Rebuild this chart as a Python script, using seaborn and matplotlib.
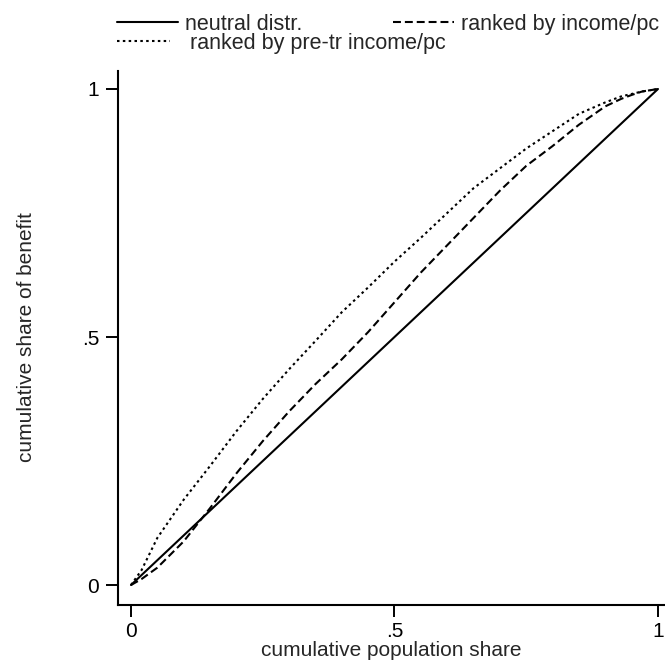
import matplotlib
matplotlib.use("Agg")
import matplotlib.pyplot as plt
import pandas as pd
import seaborn as sns

# cumulative population share (x) and cumulative share of benefit (y)
pop_share = [0.0, 0.02, 0.05, 0.10, 0.15, 0.20, 0.25, 0.30, 0.35, 0.40, 0.45,
             0.50, 0.55, 0.60, 0.65, 0.70, 0.75, 0.80, 0.85, 0.90, 0.93, 0.95,
             0.97, 1.0]
neutral = [0.0, 0.02, 0.05, 0.10, 0.15, 0.20, 0.25, 0.30, 0.35, 0.40, 0.45,
           0.50, 0.55, 0.60, 0.65, 0.70, 0.75, 0.80, 0.85, 0.90, 0.93, 0.95,
           0.97, 1.0]
by_income = [0.0, 0.012, 0.035, 0.088, 0.155, 0.225, 0.29, 0.35, 0.405, 0.455,
             0.51, 0.57, 0.63, 0.685, 0.74, 0.795, 0.845, 0.885, 0.928, 0.965,
             0.98, 0.988, 0.995, 1.0]
by_pretr_income = [0.0, 0.03, 0.095, 0.172, 0.24, 0.31, 0.375, 0.435, 0.492,
                   0.55, 0.60, 0.652, 0.70, 0.75, 0.80, 0.84, 0.88, 0.915,
                   0.95, 0.973, 0.985, 0.99, 0.995, 1.0]

series_labels = ["neutral distr.", "ranked by income/pc", "ranked by pre-tr income/pc"]
x_ticks = [0, 0.5, 1]
x_tick_labels = ["0", ".5", "1"]
y_ticks = [0, 0.5, 1]
y_tick_labels = ["0", ".5", "1"]


def main():
    sns.set_style("ticks")
    plt.rcParams["font.family"] = ["Liberation Sans", "DejaVu Sans"]

    fig = plt.figure(figsize=(6.65, 6.61), dpi=100)
    ax = fig.add_axes([0.1774, 0.0847, 0.8226, 0.8079])

    df = pd.DataFrame({"x": pop_share, "neutral": neutral,
                       "income": by_income, "pretr": by_pretr_income})

    sns.lineplot(data=df, x="x", y="neutral", ax=ax, color="black", lw=1.5,
                 sort=False, label=series_labels[0])
    sns.lineplot(data=df, x="x", y="income", ax=ax, color="black", lw=1.5,
                 sort=False, linestyle=(0, (3.8, 1.9)), label=series_labels[1])
    sns.lineplot(data=df, x="x", y="pretr", ax=ax, color="black", lw=1.5,
                 sort=False, linestyle=(0, (1.2, 1.6)), label=series_labels[2])

    ax.set_xlim(-0.0247, 1.0133)
    ax.set_ylim(-0.0403, 1.0363)
    ax.set_xticks(x_ticks)
    ax.set_xticklabels(x_tick_labels)
    ax.set_yticks(y_ticks)
    ax.set_yticklabels(y_tick_labels)
    ax.tick_params(axis="both", direction="out", length=8.5, width=1.4,
                   labelsize=15, color="black", labelcolor="black", pad=4)
    ax.tick_params(axis="y", pad=5)
    for side in ["top", "right"]:
        ax.spines[side].set_visible(False)
    for side in ["left", "bottom"]:
        ax.spines[side].set_linewidth(1.5)
        ax.spines[side].set_color("black")

    ax.set_xlabel("cumulative population share", fontsize=15, labelpad=0)
    ax.set_ylabel("cumulative share of benefit", fontsize=15)
    ax.yaxis.set_label_coords(-0.150, 0.502)

    # legend: row one holds two keys, row two holds the third
    handles, labels = ax.get_legend_handles_labels()
    leg_top = ax.legend(handles[:2], labels[:2], ncol=2, frameon=False,
                        fontsize=15.5, loc="upper left",
                        bbox_to_anchor=(117 / 665, 1 - 14 / 661),
                        bbox_transform=fig.transFigure, handlelength=2.84,
                        handletextpad=0.33, columnspacing=4.2,
                        borderpad=0, borderaxespad=0)
    ax.add_artist(leg_top)
    ax.legend(handles[2:], labels[2:], frameon=False, fontsize=15.5,
              loc="upper left", bbox_to_anchor=(117 / 665, 1 - 33 / 661),
              bbox_transform=fig.transFigure, handlelength=2.47,
              handletextpad=0.93, borderpad=0, borderaxespad=0)

    fig.savefig("out.png", dpi=100)


if __name__ == "__main__":
    main()
